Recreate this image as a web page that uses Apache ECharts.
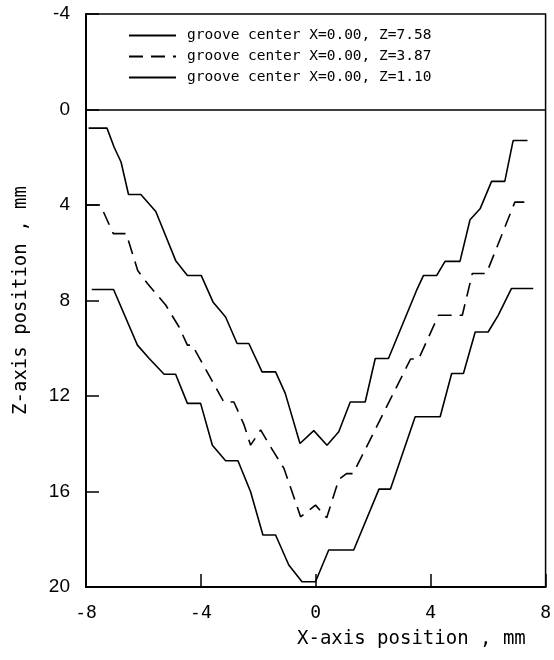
<!DOCTYPE html>
<html>
<head>
<meta charset="utf-8">
<script src="https://cdn.jsdelivr.net/npm/echarts@6/dist/echarts.min.js"></script>
<style>
html,body{margin:0;padding:0;background:#fff;}
#chart{width:554px;height:660px;}
</style>
</head>
<body>
<div id="chart"></div>
<script>
// Series names (legend)
const seriesNames = [
  'groove center X=0.00, Z=7.58',
  'groove center X=0.00, Z=3.87',
  'groove center X=0.00, Z=1.10'
];
// Tick values
const xTicks = [-8, -4, 0, 4, 8];
const zTicks = [-4, 0, 4, 8, 12, 16, 20];

// groove center Z=7.58 (lowest profile): [X mm, Z mm]
const profileZ758 = [
  [-7.8,7.54],[-7.04,7.54],[-6.21,9.87],[-5.80,10.43],[-5.28,11.09],[-4.88,11.09],
  [-4.47,12.31],[-4.01,12.31],[-3.6,14.06],[-3.14,14.71],[-2.71,14.71],[-2.27,16.01],
  [-1.84,17.82],[-1.40,17.82],[-0.94,19.08],[-0.48,19.78],[-0.01,19.78],[0.45,18.45],
  [1.32,18.45],[2.2,15.9],[2.6,15.9],[3.46,12.87],[4.33,12.87],[4.73,11.06],
  [5.14,11.06],[5.55,9.32],[6.0,9.32],[6.35,8.62],[6.81,7.5],[7.57,7.5]
];
// groove center Z=3.87 (dashed profile)
const profileZ387 = [
  [-8,4.0],[-7.5,4.0],[-7.05,5.2],[-6.6,5.2],[-6.2,6.74],[-5.86,7.29],[-5.22,8.2],
  [-4.76,9.11],[-4.47,9.87],[-4.3,9.87],[-3.2,12.25],[-2.85,12.25],[-2.5,13.2],
  [-2.27,14.06],[-1.92,13.42],[-1.64,14.0],[-1.11,15.03],[-0.83,16.0],[-0.53,17.06],
  [-0.01,16.57],[0.38,17.1],[0.8,15.5],[1.07,15.25],[1.3,15.25],[3.3,10.45],
  [3.58,10.45],[4.27,8.62],[5.1,8.62],[5.45,6.87],[5.94,6.87],[6.93,3.88],[7.51,3.88]
];
// groove center Z=1.10 (top profile)
const profileZ110 = [
  [-7.91,0.78],[-7.27,0.78],[-7.02,1.58],[-6.78,2.2],[-6.52,3.56],[-6.09,3.56],
  [-5.57,4.27],[-4.87,6.35],[-4.47,6.95],[-3.99,6.95],[-3.58,8.06],[-3.14,8.69],
  [-2.74,9.80],[-2.33,9.80],[-1.87,10.99],[-1.40,10.99],[-1.06,11.9],[-0.55,13.99],
  [-0.07,13.45],[0.39,14.06],[0.8,13.5],[1.2,12.25],[1.72,12.25],[2.07,10.43],
  [2.53,10.43],[3.5,7.6],[3.75,6.95],[4.21,6.95],[4.5,6.36],[5.02,6.36],[5.37,4.62],
  [5.72,4.16],[6.12,3.01],[6.58,3.01],[6.87,1.30],[7.37,1.30]
];

const mono = 'DejaVu Sans Mono';
const chart = echarts.init(document.getElementById('chart'), null, {renderer:'canvas'});
chart.setOption({
  animation: false,
  backgroundColor: '#fff',
  color: ['#000', '#000', '#000'],
  grid: {left: 86, right: 7, top: 14, bottom: 73, show: true, borderColor: '#000', borderWidth: 1.5},
  legend: {
    data: seriesNames,
    orient: 'vertical',
    left: 123, top: 23,
    itemWidth: 47, itemHeight: 14, itemGap: 6,
    itemStyle: {opacity: 0},
    textStyle: {fontFamily: mono, fontSize: 14.5, color: '#000', padding: [0,0,0,6]}
  },
  xAxis: {
    type: 'value', min: xTicks[0], max: xTicks[xTicks.length-1], interval: 4,
    axisLine: {onZero: false, lineStyle: {color: '#000', width: 2}},
    axisTick: {inside: true, length: 13, lineStyle: {color: '#000', width: 1.5}},
    axisLabel: {fontFamily: mono, fontSize: 18, color: '#000', margin: 17},
    splitLine: {show: false}
  },
  yAxis: {
    type: 'value', inverse: true, min: zTicks[0], max: zTicks[zTicks.length-1], interval: 4,
    name: 'Z-axis position , mm', nameLocation: 'middle', nameGap: 55, nameRotate: 90,
    nameTextStyle: {fontFamily: mono, fontSize: 19, color: '#000'},
    axisLine: {onZero: false, lineStyle: {color: '#000', width: 2}},
    axisTick: {inside: true, length: 13, lineStyle: {color: '#000', width: 1.5}},
    axisLabel: {fontFamily: 'Liberation Sans', fontSize: 19, color: '#000', margin: 16},
    splitLine: {show: false}
  },
  graphic: [{
    type: 'text', left: 297, top: 630,
    style: {text: 'X-axis position , mm', font: '19px "DejaVu Sans Mono"', fill: '#000'}
  }],
  series: [
    {
      name: seriesNames[0], type: 'line', data: profileZ758, symbol: 'none',
      itemStyle: {color: '#000'},
      lineStyle: {color: '#000', width: 1.6, type: 'solid'},
      markLine: {silent: true, symbol: 'none', label: {show: false},
        lineStyle: {color: '#000', width: 1.6, type: 'solid'}, data: [{yAxis: 0}]}
    },
    {
      name: seriesNames[1], type: 'line', data: profileZ387, symbol: 'none',
      itemStyle: {color: '#000'},
      lineStyle: {color: '#000', width: 1.6, type: [14, 8]}
    },
    {
      name: seriesNames[2], type: 'line', data: profileZ110, symbol: 'none',
      itemStyle: {color: '#000'},
      lineStyle: {color: '#000', width: 1.6, type: 'solid'}
    }
  ]
});
</script>
</body>
</html>
